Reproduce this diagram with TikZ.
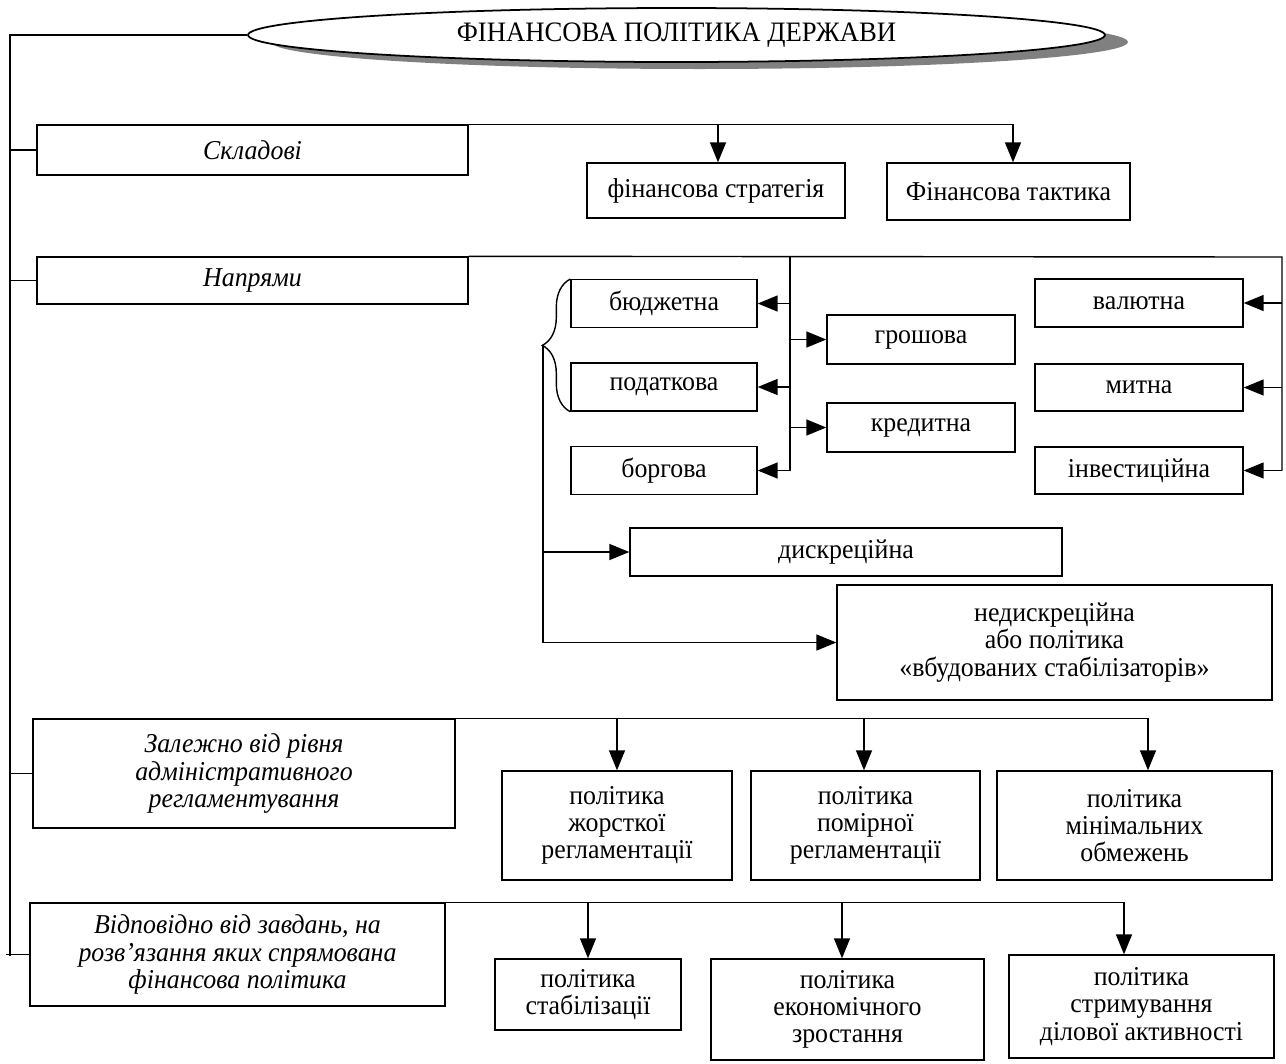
\documentclass[tikz,border=0pt]{standalone}
\usepackage{fontspec}
\setmainfont{Liberation Serif}[FakeStretch=0.95]
\usetikzlibrary{positioning, arrows.meta, shapes.geometric, decorations.pathreplacing, shadows}

\begin{document}
\begin{tikzpicture}[x=0.02cm, y=-0.02cm, line width=0.8pt,
    box/.style={rectangle, draw, inner sep=0pt, align=center, font=\fontsize{15.5}{15.5}\selectfont},
    ital/.style={box, font=\fontsize{15.5}{15.5}\selectfont\itshape},
    arr/.style={-{Triangle[length=0.4cm, width=0.32cm]}}]

\useasboundingbox (0,0) rectangle (1286,1063);

% title
\node[ellipse, draw, line width=1pt, fill=white, minimum width=17.14cm, minimum height=1.08cm, inner sep=0pt,
      drop shadow={shadow xshift=0.46cm, shadow yshift=-0.14cm, fill=gray, opacity=1},
      font=\fontsize{16}{16}\selectfont] (title) at (676.5,35) {ФІНАНСОВА ПОЛІТИКА ДЕРЖАВИ};

% left column
\node[ital, minimum width=8.62cm, minimum height=1cm] (skl) at (252.5,150) {Складові};
\node[ital, minimum width=8.62cm, minimum height=0.94cm] (napr) at (252.5,280.5) {Напрями};
\node[ital, minimum width=8.44cm, minimum height=2.18cm] (zalezh) at (244,773.5) {Залежно від рівня\\ адміністративного\\ регламентування};
\node[ital, minimum width=8.3cm, minimum height=2.06cm] (vidpov) at (237.5,954.5) {Відповідно від завдань, на\\ розв’язання яких спрямована\\ фінансова політика};

% components
\node[box, minimum width=5.16cm, minimum height=1.1cm] (strat) at (716,190.5) {фінансова стратегія};
\node[box, minimum width=4.86cm, minimum height=1.14cm] (takt) at (1008.5,191.5) {Фінансова тактика};

% directions
\node[box, minimum width=3.72cm, minimum height=0.95cm] (budg) at (664,303.5) {бюджетна};
\node[box, minimum width=3.72cm, minimum height=0.96cm] (podat) at (664,387) {податкова};
\node[box, minimum width=3.72cm, minimum height=0.95cm] (borg) at (664,470.5) {боргова};
\node[box, minimum width=3.76cm, minimum height=0.98cm] (grosh) at (921,339.5) {грошова};
\node[box, minimum width=3.76cm, minimum height=0.98cm] (kred) at (921,427.5) {кредитна};
\node[box, minimum width=4.16cm, minimum height=0.96cm] (val) at (1139,303) {валютна};
\node[box, minimum width=4.16cm, minimum height=0.94cm] (mytna) at (1139,387.5) {митна};
\node[box, minimum width=4.16cm, minimum height=0.94cm] (invest) at (1139,470.5) {інвестиційна};
\node[box, minimum width=8.64cm, minimum height=0.96cm] (diskr) at (846,552) {дискреційна};
\node[box, minimum width=8.7cm, minimum height=2.3cm] (nediskr) at (1054.5,642.5) {недискреційна\\ або політика\\ «вбудованих стабілізаторів»};

% regulation level
\node[box, minimum width=4.6cm, minimum height=2.18cm] (zhorst) at (617,825.5) {політика\\ жорсткої\\ регламентації};
\node[box, minimum width=4.58cm, minimum height=2.18cm] (pomirn) at (865.5,825.5) {політика\\ помірної\\ регламентації};
\node[box, minimum width=5.5cm, minimum height=2.18cm] (minim) at (1134.5,825.5) {політика\\ мінімальних\\ обмежень};

% tasks
\node[box, minimum width=3.72cm, minimum height=1.42cm] (stab) at (588,994.5) {політика\\ стабілізації};
\node[box, minimum width=5.46cm, minimum height=2.02cm] (ekon) at (847.5,1009.5) {політика\\ економічного\\ зростання};
\node[box, minimum width=5.3cm, minimum height=2.06cm] (strym) at (1141.5,1006.5) {політика\\ стримування\\ ділової активності};

% main spine
\coordinate (ml) at (10,956);
\draw (title.west) -| (ml);
\foreach \n in {skl,napr,zalezh}
    \draw (ml |- \n.west) -- (\n.west);
\draw ([xshift=-0.08cm]ml |- vidpov.west) -- (vidpov.west);

% components arrows
\draw (skl.north east) -- ([xshift=0.09cm]takt.north |- skl.north);
\foreach \n/\s in {strat/0.04, takt/0.09}
    \draw[arr] ([xshift=\s cm]\n.north |- skl.north) -- ([xshift=\s cm]\n.north);

% directions arrows
\coordinate (nv) at (790,257);
\coordinate (nr) at (1282,257);
\draw (napr.north east) -- (nr) -- (nr |- invest.east);
\draw (nv) -- (nv |- borg.east);
\foreach \n in {budg,podat,borg}
    \draw[arr] (nv |- \n.east) -- (\n.east);
\foreach \n in {grosh,kred}
    \draw[arr] (nv |- \n.west) -- (\n.west);
\foreach \n in {val,mytna,invest}
    \draw[arr] (nr |- \n.east) -- (\n.east);

% brace
\draw[decorate, decoration={brace, amplitude=0.56cm}] (podat.south west) -- (budg.north west);
\coordinate (bt) at (543,346);
\draw[arr] (bt) |- (nediskr.west);
\draw[arr] (bt |- diskr.west) -- (diskr.west);

% regulation arrows
\draw (zalezh.north east) -- ([xshift=0.27cm]minim.north |- zalezh.north);
\foreach \n/\s in {zhorst/0, pomirn/-0.03, minim/0.27}
    \draw[arr] ([xshift=\s cm]\n.north |- zalezh.north) -- ([xshift=\s cm]\n.north);

% tasks arrows
\draw (vidpov.north east) -- ([xshift=-0.35cm]strym.north |- vidpov.north);
\foreach \n/\s in {stab/0, ekon/-0.11, strym/-0.35}
    \draw[arr] ([xshift=\s cm]\n.north |- vidpov.north) -- ([xshift=\s cm]\n.north);

\end{tikzpicture}
\end{document}
